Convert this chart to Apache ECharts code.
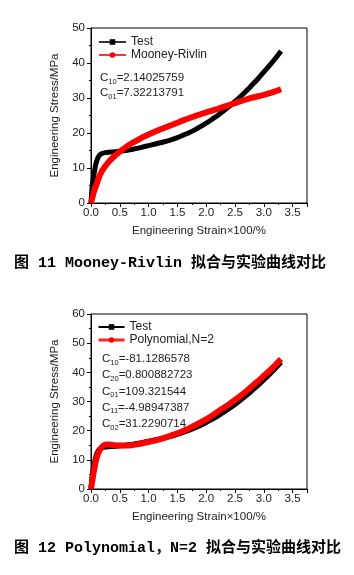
<!DOCTYPE html>
<html>
<head>
<meta charset="utf-8">
<script src="https://cdn.jsdelivr.net/npm/echarts@6/dist/echarts.min.js"></script>
<style>
html,body{margin:0;padding:0;background:#fff;}
#c{width:354px;height:575px;}
</style>
</head>
<body>
<div id="c"></div>
<script>
// ---- data ----
const testStrain = [0, 0.01, 0.02, 0.04, 0.06, 0.08, 0.1, 0.12, 0.15, 0.2, 0.25, 0.3, 0.4, 0.5, 0.6, 0.7, 0.8, 0.9, 1.0, 1.1, 1.2, 1.3, 1.4, 1.5, 1.6, 1.7, 1.8, 1.9, 2.0, 2.1, 2.2, 2.3, 2.4, 2.5, 2.6, 2.7, 2.8, 2.9, 3.0, 3.1, 3.2, 3.3];
const testStress = [0, 2.5, 4.5, 7.0, 9.0, 10.8, 12.0, 12.9, 13.7, 14.2, 14.4, 14.5, 14.6, 14.8, 15.0, 15.3, 15.6, 16.0, 16.4, 16.8, 17.2, 17.6, 18.1, 18.7, 19.4, 20.1, 20.9, 21.8, 22.8, 23.9, 25.0, 26.3, 27.6, 29.0, 30.5, 32.1, 33.8, 35.5, 37.4, 39.3, 41.3, 43.4];

const mrStrain = [0, 0.02, 0.05, 0.1, 0.15, 0.2, 0.3, 0.4, 0.5, 0.6, 0.7, 0.8, 0.9, 1.0, 1.2, 1.4, 1.6, 1.8, 2.0, 2.2, 2.4, 2.6, 2.8, 3.0, 3.2, 3.3];
const mrStress = [0, 1.3, 3.2, 5.5, 7.8, 9.4, 11.6, 13.3, 14.7, 15.9, 17.0, 17.9, 18.8, 19.6, 21.0, 22.3, 23.6, 24.8, 25.9, 26.9, 28.0, 29.1, 30.1, 30.9, 31.9, 32.5];

const polyStrain = [0, 0.02, 0.04, 0.06, 0.08, 0.1, 0.12, 0.15, 0.2, 0.25, 0.3, 0.35, 0.4, 0.5, 0.6, 0.7, 0.8, 0.9, 1.0, 1.1, 1.2, 1.3, 1.4, 1.5, 1.6, 1.7, 1.8, 1.9, 2.0, 2.1, 2.2, 2.3, 2.4, 2.5, 2.6, 2.7, 2.8, 2.9, 3.0, 3.1, 3.2, 3.3];
const polyStress = [0, 2.5, 5.0, 7.2, 9.2, 10.8, 12.0, 13.3, 14.6, 15.2, 15.3, 15.2, 15.0, 14.9, 14.9, 15.0, 15.3, 15.7, 16.1, 16.6, 17.1, 17.7, 18.4, 19.1, 19.9, 20.8, 21.8, 22.8, 23.9, 25.1, 26.5, 27.8, 29.1, 30.5, 32.0, 33.6, 35.3, 37.0, 38.8, 40.6, 42.5, 44.5];

const xTicks = {min: 0, max: 3.75, interval: 0.5};
const yTicks1 = {min: 0, max: 50, interval: 10};
const yTicks2 = {min: 0, max: 60, interval: 10};

const xName = 'Engineering Strain×100/%';
const yName = 'Engineering Stress/MPa';
const caption1 = '图 11 Mooney-Rivlin 拟合与实验曲线对比';
const caption2 = '图 12 Polynomial，N=2 拟合与实验曲线对比';
const coeffs1 = [['10', '=2.14025759'], ['01', '=7.32213791']];
const coeffs2 = [['10', '=-81.1286578'], ['20', '=0.800882723'], ['01', '=109.321544'], ['11', '=-4.98947387'], ['02', '=31.2290714']];

// ---- chart ----
const zip = (a, b) => a.map((v, i) => [v, b[i]]);
const FONT = '"Liberation Sans", Arial, sans-serif';
const txt = '#222';

function xAxisCfg(gi) {
  return {
    type: 'value', gridIndex: gi, min: xTicks.min, max: xTicks.max, interval: xTicks.interval,
    name: xName, nameLocation: 'middle', nameGap: 22,
    nameTextStyle: {fontFamily: FONT, fontSize: 11.5, color: txt},
    axisLine: {show: true, lineStyle: {color: '#000', width: 1}},
    axisTick: {show: true, inside: false, length: 4, lineStyle: {color: '#000'}},
    minorTick: {show: true, splitNumber: 2, length: 2, lineStyle: {color: '#000'}},
    axisLabel: {fontFamily: FONT, fontSize: 11.5, color: txt, margin: 4, showMaxLabel: false,
      formatter: v => (Math.abs(v / 0.5 - Math.round(v / 0.5)) < 1e-6 ? v.toFixed(1) : '')},
    splitLine: {show: false}
  };
}
function yAxisCfg(gi, t) {
  return {
    type: 'value', gridIndex: gi, min: t.min, max: t.max, interval: t.interval,
    name: yName, nameLocation: 'middle', nameGap: 21, nameRotate: 90,
    nameTextStyle: {fontFamily: FONT, fontSize: 11.5, color: txt},
    axisLine: {show: true, lineStyle: {color: '#000', width: 1}},
    axisTick: {show: true, inside: false, length: 4, lineStyle: {color: '#000'}},
    minorTick: {show: true, splitNumber: 2, length: 2, lineStyle: {color: '#000'}},
    axisLabel: {fontFamily: FONT, fontSize: 11.5, color: txt, margin: 6},
    splitLine: {show: false}
  };
}

function coeffText(list, left, top, gap) {
  return list.map((c, i) => ({
    type: 'text', left: left, top: top + i * gap, z: 100,
    style: {
      text: '{m|C}{s|' + c[0] + '}{m|' + c[1] + '}',
      rich: {
        m: {fontSize: 11.5, fontFamily: FONT, fill: txt, lineHeight: 15, verticalAlign: 'middle'},
        s: {fontSize: 7.5, fontFamily: FONT, fill: txt, lineHeight: 5, verticalAlign: 'bottom'}
      }
    }
  }));
}

const legendText = {fontFamily: FONT, fontSize: 12, color: txt};

const option = {
  animation: false,
  backgroundColor: '#fff',
  grid: [
    {left: 91, top: 28, width: 216, height: 175, show: true, borderColor: '#000', borderWidth: 1, backgroundColor: 'transparent'},
    {left: 91, top: 314, width: 216, height: 175, show: true, borderColor: '#000', borderWidth: 1, backgroundColor: 'transparent'}
  ],
  xAxis: [xAxisCfg(0), xAxisCfg(1)],
  yAxis: [yAxisCfg(0, yTicks1), yAxisCfg(1, yTicks2)],
  legend: [
    {orient: 'vertical', left: 93, top: 31, itemWidth: 27, itemHeight: 7, itemGap: 1, textStyle: legendText,
     selectedMode: false,
     data: [
       {name: 'Test', itemStyle: {color: '#000'}, lineStyle: {color: '#333', width: 2}},
       {name: 'Mooney-Rivlin', itemStyle: {color: '#f00'}, lineStyle: {color: '#f33', width: 2}}
     ]},
    {orient: 'vertical', left: 92, top: 316, itemWidth: 26, itemHeight: 7, itemGap: 1, textStyle: legendText,
     selectedMode: false,
     data: [
       {name: 'Test ', itemStyle: {color: '#000'}, lineStyle: {color: '#000', width: 2}},
       {name: 'Polynomial,N=2', itemStyle: {color: '#f00'}, lineStyle: {color: '#f22', width: 3}}
     ]}
  ],
  series: [
    {name: 'Test', type: 'line', xAxisIndex: 0, yAxisIndex: 0, data: zip(testStrain, testStress),
     showSymbol: false, symbol: 'rect', symbolSize: 6, smooth: 0.2, color: '#000', lineStyle: {width: 5, color: '#000'}, z: 2},
    {name: 'Mooney-Rivlin', type: 'line', xAxisIndex: 0, yAxisIndex: 0, data: zip(mrStrain, mrStress),
     showSymbol: false, symbol: 'circle', symbolSize: 6, smooth: 0.2, color: '#f00', lineStyle: {width: 6, color: '#f00'}, z: 3},
    {name: 'Test ', type: 'line', xAxisIndex: 1, yAxisIndex: 1, data: zip(testStrain, testStress),
     showSymbol: false, symbol: 'rect', symbolSize: 6, smooth: 0.2, color: '#000', lineStyle: {width: 5, color: '#000'}, z: 2},
    {name: 'Polynomial,N=2', type: 'line', xAxisIndex: 1, yAxisIndex: 1, data: zip(polyStrain, polyStress),
     showSymbol: false, symbol: 'circle', symbolSize: 6, smooth: 0.2, color: '#f00', lineStyle: {width: 6, color: '#f00'}, z: 3}
  ],
  graphic: [
    ...coeffText(coeffs1, 100, 72, 15),
    ...coeffText(coeffs2, 102, 353, 16.3),
    {type: 'text', left: 14, top: 256, style: {text: caption1, fontSize: 15, fontWeight: 'bold',
      fontFamily: '"Liberation Mono", "Noto Sans CJK SC", monospace', fill: '#000'}},
    {type: 'text', left: 14, top: 541, style: {text: caption2, fontSize: 15, fontWeight: 'bold',
      fontFamily: '"Liberation Mono", "Noto Sans CJK SC", monospace', fill: '#000'}}
  ]
};

const chart = echarts.init(document.getElementById('c'), null, {renderer: 'canvas'});
chart.setOption(option);
</script>
</body>
</html>
